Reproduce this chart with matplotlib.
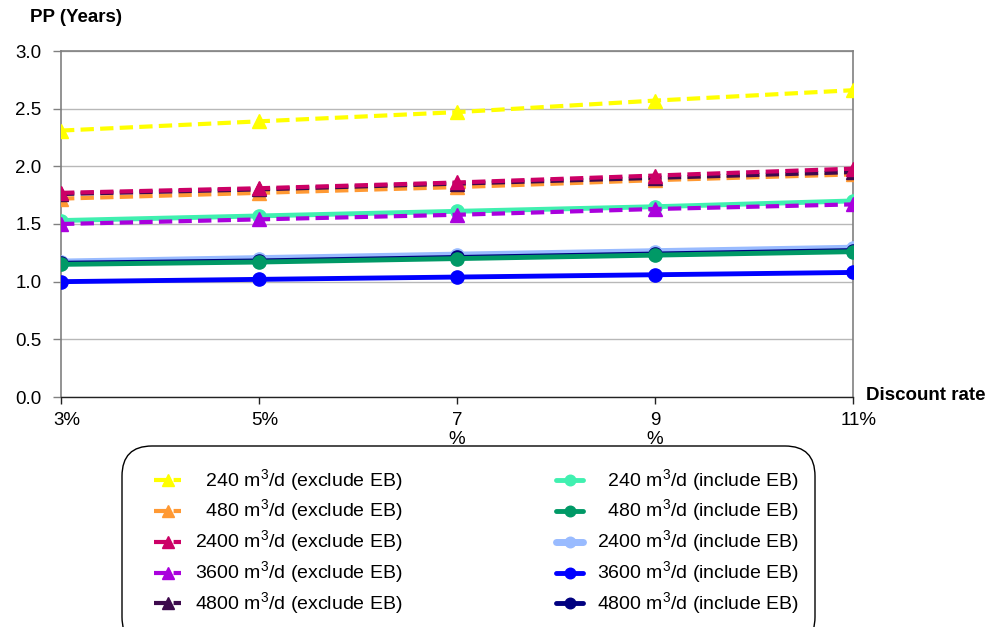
import matplotlib
matplotlib.use("Agg")
import matplotlib.pyplot as plt
import matplotlib.transforms as mtransforms
from matplotlib.patches import FancyBboxPatch
import numpy as np

plt.rcParams['font.family'] = ['Liberation Sans', 'DejaVu Sans']
plt.rcParams['mathtext.fontset'] = 'custom'
plt.rcParams['mathtext.rm'] = 'Liberation Sans'

categories = ["3%", "5%", "7\n%", "9\n%", "11%"]

exclude_labels = ["240", "480", "2400", "3600", "4800"]
exclude_colors = ["#FFFF00", "#FF9933", "#CC0066", "#AA00DD", "#3D0A4D"]
ex_240 = [2.31, 2.39, 2.47, 2.57, 2.66]
ex_480 = [1.72, 1.77, 1.82, 1.88, 1.93]
ex_2400 = [1.77, 1.81, 1.86, 1.92, 1.98]
ex_3600 = [1.50, 1.54, 1.58, 1.63, 1.67]
ex_4800 = [1.76, 1.80, 1.85, 1.90, 1.95]

include_labels = ["240", "480", "2400", "3600", "4800"]
include_colors = ["#40F0B0", "#009966", "#99BBFF", "#0000FF", "#000080"]
in_240 = [1.53, 1.57, 1.61, 1.65, 1.70]
in_480 = [1.15, 1.17, 1.20, 1.23, 1.26]
in_2400 = [1.17, 1.20, 1.23, 1.26, 1.29]
in_3600 = [1.00, 1.02, 1.04, 1.06, 1.08]
in_4800 = [1.16, 1.18, 1.21, 1.24, 1.27]

ex_series = [ex_240, ex_480, ex_2400, ex_3600, ex_4800]
in_series = [in_240, in_480, in_2400, in_3600, in_4800]

FS = 13.5
LFS = 14
W, H = 998, 627
fig = plt.figure(figsize=(W / 100, H / 100), dpi=100)
ax = fig.add_axes([61 / W, 1 - 397 / H, (853 - 61) / W, (397 - 51) / H])
x = np.arange(len(categories))

in_lines = {}
for i in [2, 4, 1, 0, 3]:
    lw = 5 if i == 2 else 3.5
    l, = ax.plot(x, in_series[i], color=include_colors[i], lw=lw, marker='o',
                 markersize=9.5, solid_capstyle='round', zorder=3)
    in_lines[i] = l
ex_lines = {}
for i in [0, 1, 4, 2, 3]:
    l, = ax.plot(x, ex_series[i], color=exclude_colors[i], lw=3, ls=(0, (3.2, 1.5)),
                 marker='^', markersize=10, zorder=4)
    ex_lines[i] = l

ax.set_xlim(0, len(categories) - 1)
ax.set_ylim(0, 3.0)
yt = np.arange(0, 3.01, 0.5)
ax.set_yticks(yt)
ax.set_yticklabels([f"{v:.1f}" for v in yt], fontsize=FS)
ax.set_xticks(x)
ax.set_xticklabels(categories, fontsize=FS, va='top', linespacing=1.15)
ax.tick_params(axis='y', length=6, width=1, color='#808080', pad=8)
ax.tick_params(axis='x', length=5, width=1, color='#222222', pad=6)
ax.yaxis.grid(True, color='#B8B8B8', lw=1)
ax.set_axisbelow(True)
for s in ['left', 'right', 'top']:
    ax.spines[s].set_color('#808080')
    ax.spines[s].set_linewidth(1.2)
ax.spines['bottom'].set_color('#222222')
ax.spines['bottom'].set_linewidth(1)

shift = mtransforms.ScaledTranslation(6 / 100, 0, fig.dpi_scale_trans)
for t in ax.get_xticklabels():
    if "\n" not in t.get_text():
        t.set_transform(t.get_transform() + shift)

fig.text(30 / W, 1 - 18 / H, "PP (Years)", fontsize=FS, fontweight='bold', va='center', ha='left')
fig.text(866 / W, 1 - 395 / H, "Discount rate", fontsize=FS, fontweight='bold', va='center', ha='left')

def lab(n, kind):
    pad = "  " * (4 - len(n))
    return f"{pad}{n} m$^3$/d ({kind} EB)"

handles = [ex_lines[i] for i in range(5)] + [in_lines[i] for i in range(5)]
labels = [lab(n, "exclude") for n in exclude_labels] + [lab(n, "include") for n in include_labels]
leg = fig.legend(handles, labels, loc='upper left', bbox_to_anchor=(154 / W, 1 - 467 / H),
                 ncol=2, fontsize=LFS, frameon=False,
                 handlelength=1.4, handletextpad=0.7,
                 columnspacing=7.9, labelspacing=0.22, borderpad=0,
                 borderaxespad=0, markerscale=0.8)

box = FancyBboxPatch((122 / W, -20 / H), (815 - 122) / W, (627 + 20 - 446) / H,
                     boxstyle='round,pad=0,rounding_size=0.03', transform=fig.transFigure,
                     facecolor='white', edgecolor='black', lw=1, mutation_aspect=1.6, zorder=0)
fig.patches.append(box)

fig.savefig("out.png", dpi=100)
